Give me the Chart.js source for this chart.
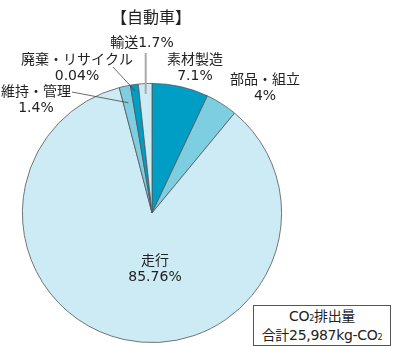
<!DOCTYPE html>
<html>
<head>
<meta charset="utf-8">
<script src="https://cdn.jsdelivr.net/npm/chart.js@4.4.0/dist/chart.umd.min.js"></script>
<style>
  html, body { margin: 0; padding: 0; background: #fff; }
  #wrap { position: relative; width: 393px; height: 349px; }
  #box {
    position: absolute; left: 253px; top: 305px; width: 136px; height: 37px;
    border: 1px solid #555; background: #fff;
    font-family: "DejaVu Sans", "Noto Sans CJK JP", sans-serif; font-size: 14px; line-height: 16px;
    color: #222; text-align: center; padding-top: 2px; box-sizing: content-box;
    letter-spacing: -0.3px;
  }
  #box span.s { font-size: 8px; }
</style>
</head>
<body>
<div id="wrap">
  <canvas id="pie" width="393" height="349"></canvas>
  <div id="box">CO<span class="s">2</span>排出量<br>合計25,987kg-CO<span class="s">2</span></div>
</div>
<script>
var categories = ['素材製造', '部品・組立', '走行', '維持・管理', '廃棄・リサイクル', '輸送'];
var shares = [7.1, 4, 85.76, 1.4, 0.04, 1.7];
var colors = ['#009ec4', '#7ecee2', '#cdebf4', '#7ecee2', '#009ec4', '#cdebf4'];

// tiny slices are drawn at least this wide so they stay visible (as in the original)
var minShare = 1;
var drawShares = shares.map(function(v) { return Math.max(v, minShare); });

var FONT = '14px "DejaVu Sans", "Noto Sans CJK JP", sans-serif';

// label placement: text centre, and optional leader line (from point, radius factor inside slice)
var labelPos = [
    { x: 195, y: 60, two: true },
    { x: 265, y: 80, two: true },
    { x: 155, y: 261, two: true },
    { x: 36, y: 92, two: true, from: [72, 92], r: 0.87, color: '#444', w: 0.8 },
    { x: 77, y: 60, two: true, from: [113, 67], r: 0.95, color: '#444', w: 0.8 },
    { x: 142, y: 43, two: false, vertical: 53, r: 0.92, color: '#aaa', w: 2 }
];

var labelPlugin = {
    id: 'labels',
    afterDraw: function(chart) {
        var ctx = chart.ctx;
        var arcs = chart.getDatasetMeta(0).data;
        ctx.save();

        // title
        ctx.fillStyle = '#222';
        ctx.font = '16px "Noto Sans CJK JP", sans-serif';
        ctx.textAlign = 'center';
        ctx.textBaseline = 'middle';
        ctx.fillText('【自動車】', 151, 17);

        arcs.forEach(function(arc, i) {
            var p = labelPos[i];
            if (p.r) {
                var mid = (arc.startAngle + arc.endAngle) / 2;
                var ex = arc.x + Math.cos(mid) * arc.outerRadius * p.r;
                var ey = arc.y + Math.sin(mid) * arc.outerRadius * p.r;
                var sx = p.from ? p.from[0] : ex;
                var sy = p.from ? p.from[1] : p.vertical;
                ctx.strokeStyle = p.color;
                ctx.lineWidth = p.w;
                ctx.beginPath();
                ctx.moveTo(sx, sy);
                ctx.lineTo(ex, ey);
                ctx.stroke();
            }
            ctx.fillStyle = '#222';
            ctx.font = FONT;
            var pct = shares[i] + '%';
            if (p.two) {
                ctx.fillText(categories[i], p.x, p.y);
                ctx.fillText(pct, p.x, p.y + 16);
            } else {
                ctx.fillText(categories[i] + pct, p.x, p.y);
            }
        });
        ctx.restore();
    }
};

new Chart(document.getElementById('pie').getContext('2d'), {
    type: 'pie',
    data: {
        labels: categories,
        datasets: [{
            data: drawShares,
            backgroundColor: colors,
            borderColor: '#555',
            borderWidth: 0.8,
            hoverOffset: 0,
            offset: 0
        }]
    },
    options: {
        responsive: false,
        animation: false,
        events: [],
        layout: { padding: { left: 22, top: 83, right: 111, bottom: 6 } },
        plugins: {
            legend: { display: false },
            tooltip: { enabled: false },
            title: { display: false }
        }
    },
    plugins: [labelPlugin]
});
</script>
</body>
</html>
